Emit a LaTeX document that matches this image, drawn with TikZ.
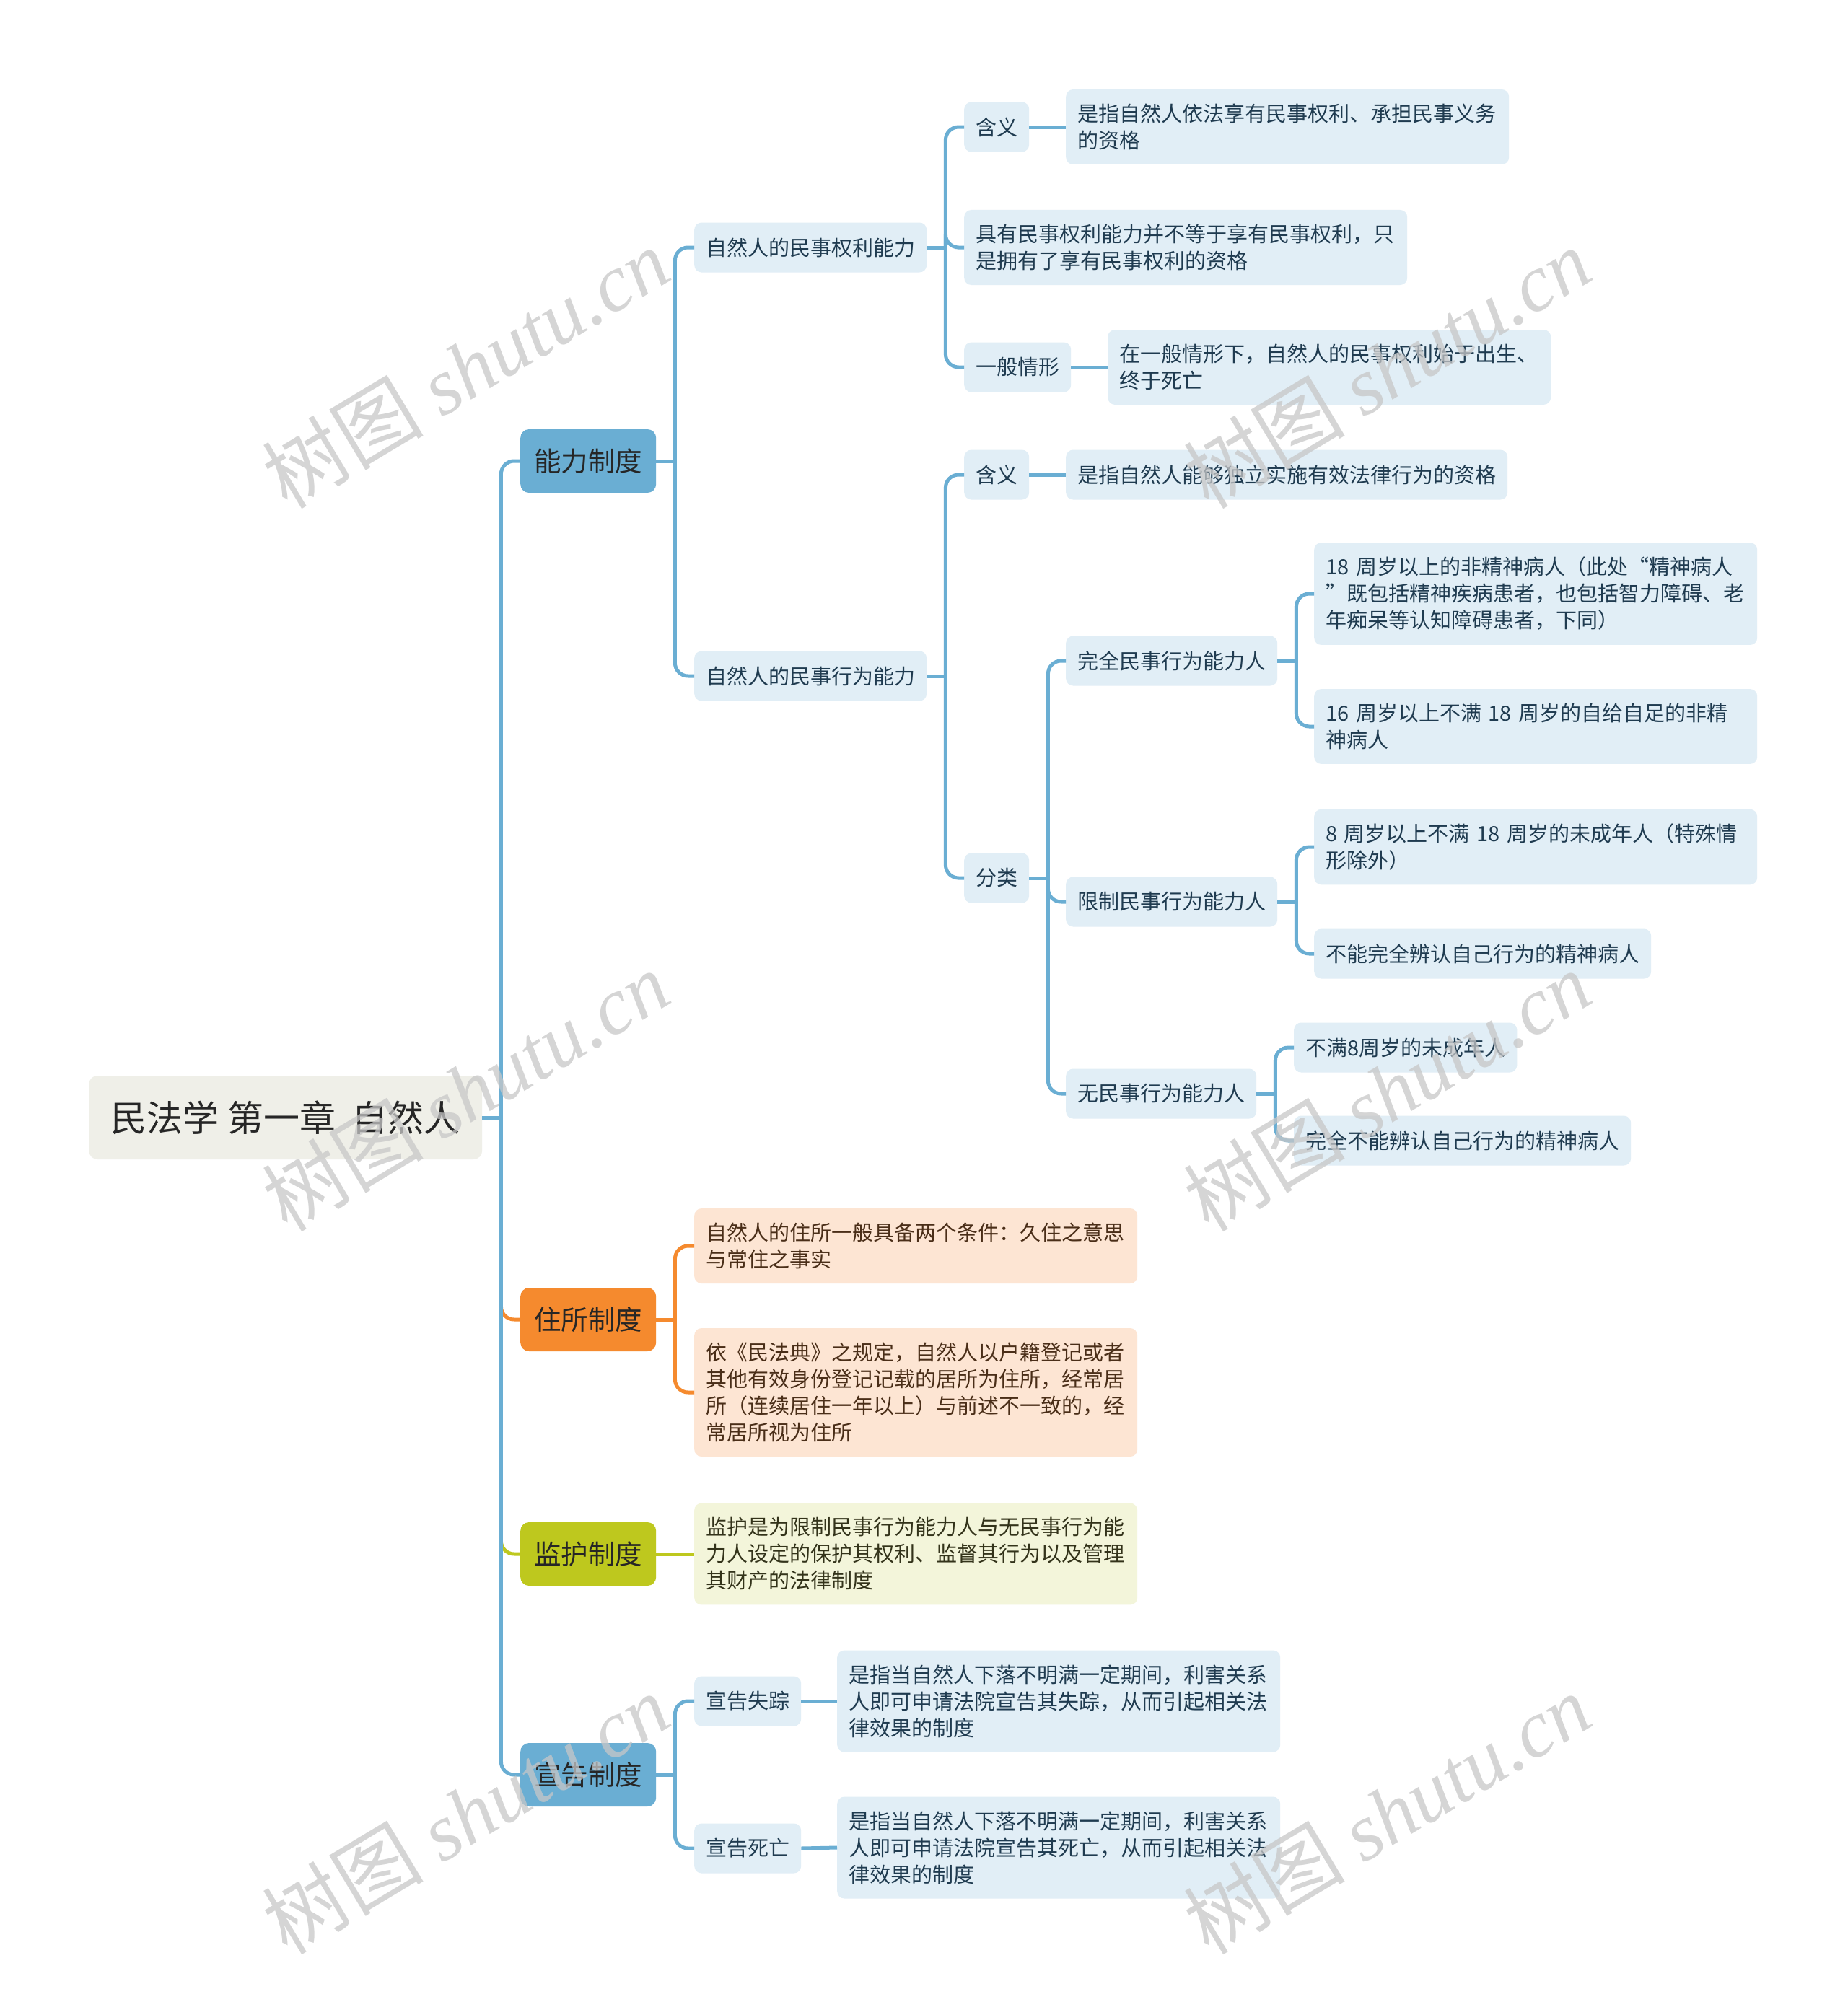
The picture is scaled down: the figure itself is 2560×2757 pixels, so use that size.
\documentclass[tikz,border=0pt]{standalone}
\usepackage{fontspec}
\setmainfont{Noto Sans CJK SC}
\newfontfamily\wmlat{Liberation Serif}
\definecolor{cblue}{HTML}{6AAED3}
\definecolor{corange}{HTML}{F58A2E}
\definecolor{cgreen}{HTML}{BEC81E}
\definecolor{lblue}{HTML}{E1EEF6}
\definecolor{lpeach}{HTML}{FDE5D3}
\definecolor{lgreen}{HTML}{F3F5DA}
\definecolor{rootfill}{HTML}{EFEFE8}
\definecolor{txtblue}{HTML}{1F3B50}
\definecolor{txtbrown}{HTML}{4A2E18}
\definecolor{txtolive}{HTML}{33331A}
\definecolor{txtdark}{HTML}{262626}
\begin{document}
\begin{tikzpicture}[x=1pt,y=-1pt,
  conn/.style={line width=5pt, rounded corners=18pt, draw=cblue},
  base/.style={anchor=west, rounded corners=10pt, inner xsep=16pt, inner ysep=20pt,
    minimum height=69pt, fill=lblue, text=txtblue, font=\fontsize{29}{37}\selectfont},
  desc/.style={base, inner xsep=16pt, text width=582pt, align=left},
  lone/.style={anchor=west, rounded corners=12pt, minimum width=188pt, minimum height=88pt,
    inner sep=0pt, text=txtdark, font=\fontsize{37.5}{45}\selectfont},
  wmark/.style={rotate=31, text=black!22, opacity=0.75, font=\fontsize{112}{120}\selectfont}
]
\useasboundingbox (0,0) rectangle (2560,2757);
\fill[white] (0,0) rectangle (2560,2757);

% root
\node[anchor=west, rounded corners=12pt, fill=rootfill, minimum width=545pt, minimum height=116pt,
  inner sep=0pt, text=txtdark, font=\fontsize{50}{56}\selectfont] (root) at (123,1549)
  {民法学 第一章\hspace{0.45em}自然人};

% level 1
\node[lone, fill=cblue] (nl) at (721,639) {能力制度};
\node[lone, fill=corange] (zs) at (721,1829) {住所制度};
\node[lone, fill=cgreen] (jh) at (721,2154) {监护制度};
\node[lone, fill=cblue] (xg) at (721,2460) {宣告制度};

% 能力制度
\node[base] (qlnl) at (962,343) {自然人的民事权利能力};
\node[base] (xwnl) at (962,937) {自然人的民事行为能力};

\node[base] (qlhy) at (1336,176) {含义};
\node[desc] (qlhyd) at (1477,176) {是指自然人依法享有民事权利、承担民事义务\\的资格};
\node[desc] (qlju) at (1336,343) {具有民事权利能力并不等于享有民事权利，只\\是拥有了享有民事权利的资格};
\node[base] (qlyb) at (1336,509) {一般情形};
\node[desc] (qlybd) at (1535,509) {在一般情形下，自然人的民事权利始于出生、\\终于死亡};

\node[base] (xwhy) at (1336,658) {含义};
\node[base] (xwhyd) at (1477,658) {是指自然人能够独立实施有效法律行为的资格};
\node[base] (xwfl) at (1336,1217) {分类};

\node[base] (wq) at (1477,916) {完全民事行为能力人};
\node[desc] (wq1) at (1821,823) {18 周岁以上的非精神病人（此处“精神病人\\”既包括精神疾病患者，也包括智力障碍、老\\年痴呆等认知障碍患者，下同）};
\node[desc] (wq2) at (1821,1007) {16 周岁以上不满 18 周岁的自给自足的非精\\神病人};

\node[base] (xz) at (1477,1250) {限制民事行为能力人};
\node[desc] (xz1) at (1821,1174) {8 周岁以上不满 18 周岁的未成年人（特殊情\\形除外）};
\node[base] (xz2) at (1821,1322) {不能完全辨认自己行为的精神病人};

\node[base] (wm) at (1477,1516) {无民事行为能力人};
\node[base] (wm1) at (1793,1452) {不满8周岁的未成年人};
\node[base] (wm2) at (1793,1581) {完全不能辨认自己行为的精神病人};

% 住所制度
\node[desc, fill=lpeach, text=txtbrown] (zs1) at (962,1727) {自然人的住所一般具备两个条件：久住之意思\\与常住之事实};
\node[desc, fill=lpeach, text=txtbrown] (zs2) at (962,1930) {依《民法典》之规定，自然人以户籍登记或者\\其他有效身份登记记载的居所为住所，经常居\\所（连续居住一年以上）与前述不一致的，经\\常居所视为住所};

% 监护制度
\node[desc, fill=lgreen, text=txtolive] (jh1) at (962,2154) {监护是为限制民事行为能力人与无民事行为能\\力人设定的保护其权利、监督其行为以及管理\\其财产的法律制度};

% 宣告制度
\node[base] (xgsz) at (962,2358) {宣告失踪};
\node[desc] (xgszd) at (1160,2358) {是指当自然人下落不明满一定期间，利害关系\\人即可申请法院宣告其失踪，从而引起相关法\\律效果的制度};
\node[base] (xgsw) at (962,2562) {宣告死亡};
\node[desc] (xgswd) at (1160,2561) {是指当自然人下落不明满一定期间，利害关系\\人即可申请法院宣告其死亡，从而引起相关法\\律效果的制度};

% ---------- connectors ----------
% trunk
\draw[conn, draw=corange] ([xshift=26pt]root.east) |- (zs.west);
\draw[conn, draw=cgreen] ([xshift=26pt]root.east) |- (jh.west);
\draw[conn] (root.east) -- ([xshift=26pt]root.east);
\draw[conn] ([xshift=26pt]root.east) |- (nl.west);
\draw[conn] ([xshift=26pt]root.east) |- (xg.west);

% 能力制度
\draw[conn] (nl.east) -- ([xshift=26pt]nl.east);
\draw[conn] ([xshift=26pt]nl.east) |- (qlnl.west);
\draw[conn] ([xshift=26pt]nl.east) |- (xwnl.west);

\draw[conn] (qlnl.east) -- ([xshift=26pt]qlnl.east);
\draw[conn] ([xshift=26pt]qlnl.east) |- (qlhy.west);
\draw[conn] ([xshift=26pt]qlnl.east) |- (qlju.west);
\draw[conn] ([xshift=26pt]qlnl.east) |- (qlyb.west);
\draw[conn] (qlhy.east) -- (qlhyd.west);
\draw[conn] (qlyb.east) -- (qlybd.west);

\draw[conn] (xwnl.east) -- ([xshift=26pt]xwnl.east);
\draw[conn] ([xshift=26pt]xwnl.east) |- (xwhy.west);
\draw[conn] ([xshift=26pt]xwnl.east) |- (xwfl.west);
\draw[conn] (xwhy.east) -- (xwhyd.west);

\draw[conn] (xwfl.east) -- ([xshift=26pt]xwfl.east);
\draw[conn] ([xshift=26pt]xwfl.east) |- (wq.west);
\draw[conn] ([xshift=26pt]xwfl.east) |- (xz.west);
\draw[conn] ([xshift=26pt]xwfl.east) |- (wm.west);

\draw[conn] (wq.east) -- ([xshift=26pt]wq.east);
\draw[conn] ([xshift=26pt]wq.east) |- (wq1.west);
\draw[conn] ([xshift=26pt]wq.east) |- (wq2.west);

\draw[conn] (xz.east) -- ([xshift=26pt]xz.east);
\draw[conn] ([xshift=26pt]xz.east) |- (xz1.west);
\draw[conn] ([xshift=26pt]xz.east) |- (xz2.west);

\draw[conn] (wm.east) -- ([xshift=26pt]wm.east);
\draw[conn] ([xshift=26pt]wm.east) |- (wm1.west);
\draw[conn] ([xshift=26pt]wm.east) |- (wm2.west);

% 住所制度
\draw[conn, draw=corange] (zs.east) -- ([xshift=26pt]zs.east);
\draw[conn, draw=corange] ([xshift=26pt]zs.east) |- (zs1.west);
\draw[conn, draw=corange] ([xshift=26pt]zs.east) |- (zs2.west);

% 监护制度
\draw[conn, draw=cgreen] (jh.east) -- (jh1.west);

% 宣告制度
\draw[conn] (xg.east) -- ([xshift=26pt]xg.east);
\draw[conn] ([xshift=26pt]xg.east) |- (xgsz.west);
\draw[conn] ([xshift=26pt]xg.east) |- (xgsw.west);
\draw[conn] (xgsz.east) -- (xgszd.west);
\draw[conn] (xgsw.east) -- (xgswd.west);

% ---------- watermarks ----------
\node[wmark] (wma) at (645,510) {树图 {\wmlat\itshape shutu.cn}};
\node[wmark] (wmb) at (645,1512) {树图 {\wmlat\itshape shutu.cn}};
\node[wmark] (wmc) at (1922,510) {树图 {\wmlat\itshape shutu.cn}};
\node[wmark] (wmd) at (1922,1512) {树图 {\wmlat\itshape shutu.cn}};
\node[wmark] (wme) at (645,2514) {树图 {\wmlat\itshape shutu.cn}};
\node[wmark] (wmf) at (1922,2514) {树图 {\wmlat\itshape shutu.cn}};
\end{tikzpicture}
\end{document}
